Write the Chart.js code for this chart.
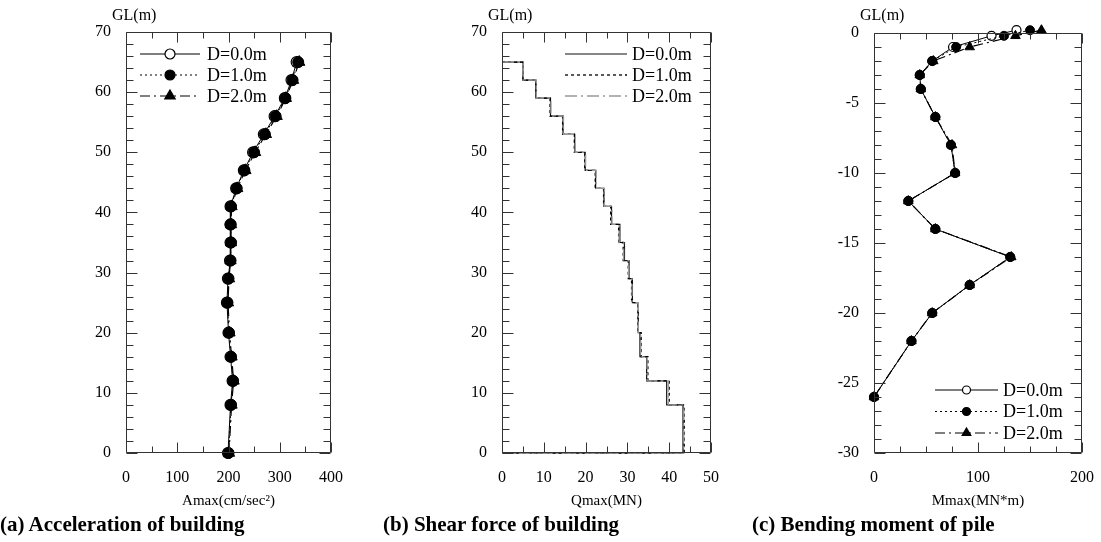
<!DOCTYPE html>
<html>
<head>
<meta charset="utf-8">
<script src="https://cdn.jsdelivr.net/npm/chart.js@4.4.1/dist/chart.umd.min.js"></script>
<style>
body{margin:0;background:#fff;width:1101px;height:542px;position:relative;overflow:hidden;font-family:"Liberation Serif",serif;}
canvas{position:absolute;top:0;}
.caption{position:absolute;top:512px;font-weight:bold;font-size:21px;line-height:24px;white-space:nowrap;color:#000;}
</style>
</head>
<body>
<canvas id="chartA" width="310" height="520" style="left:40px"></canvas>
<canvas id="chartB" width="320" height="520" style="left:410px"></canvas>
<canvas id="chartC" width="321" height="520" style="left:780px"></canvas>
<div class="caption" style="left:0px">(a) Acceleration of building</div>
<div class="caption" style="left:383px">(b) Shear force of building</div>
<div class="caption" style="left:752px">(c) Bending moment of pile</div>
<script>
// DATA

let seriesLabels = ["D=0.0m", "D=1.0m", "D=2.0m"];

// (a) max acceleration of building, cm/sec2, per floor level GL(m)
let accGL = [65, 62, 59, 56, 53, 50, 47, 44, 41, 38, 35, 32, 29, 25, 20, 16, 12, 8, 0];
let accD0 = [333, 323, 310, 290, 269, 248, 230, 215, 204, 204, 204, 203, 199, 197, 200, 204, 208, 204, 199];
let accD1 = [336, 325, 311, 292, 271, 250, 231, 216, 205, 204, 205, 204, 200, 198, 201, 205, 209, 205, 200];
let accD2 = [338, 326, 312, 294, 273, 252, 233, 217, 206, 205, 205, 204, 201, 199, 202, 206, 210, 206, 201];
let accXTicks = [0, 100, 200, 300, 400];
let accYTicks = [0, 10, 20, 30, 40, 50, 60, 70];

// (b) max shear force of building, MN, for each storey (top GL of storey)
let shearTop = [65, 62, 59, 56, 53, 50, 47, 44, 41, 38, 35, 32, 29, 25, 20, 16, 12, 8];
let shearD0 = [5.0, 8.1, 11.6, 14.6, 17.4, 19.9, 22.4, 24.4, 26.2, 28.2, 29.3, 30.4, 31.2, 32.6, 33.0, 34.6, 39.4, 43.3];
let shearD1 = [5.0, 8.1, 11.5, 14.5, 17.3, 19.8, 22.3, 24.3, 26.0, 27.9, 29.0, 30.2, 31.0, 32.5, 33.3, 34.9, 40.0, 43.6];
let shearD2 = [5.0, 8.2, 11.7, 14.7, 17.5, 20.0, 22.5, 24.5, 26.3, 28.0, 29.1, 30.3, 31.1, 32.6, 33.2, 34.7, 39.8, 43.5];
let shearXTicks = [0, 10, 20, 30, 40, 50];
let shearYTicks = [0, 10, 20, 30, 40, 50, 60, 70];

// (c) max bending moment of pile, MN*m, along pile depth GL(m)
let momGL = [0.2, -0.2, -1, -2, -3, -4, -6, -8, -10, -12, -14, -16, -18, -20, -22, -26];
let momD0 = [137, 113, 76, 56, 44, 45, 59, 74, 78, 33, 59, 131, 92, 56, 36, 0];
let momD1 = [150, 125, 79, 56, 44, 45, 59, 74, 78, 33, 59, 131, 92, 56, 36, 0];
let momD2 = [161, 136, 92, 57, 44, 45, 59, 75, 78, 33, 59, 132, 92, 56, 36, 0];
let momXTicks = [0, 100, 200];
let momYTicks = [-30, -25, -20, -15, -10, -5, 0];

let serif = '"Liberation Serif", "Times New Roman", serif';

//FUNCIONES

function profilePoints(xs, ys){
	return xs.map((v, i) => ({x: v, y: ys[i]}));
}

// storey outline: horizontal at each storey top, vertical down the storey, closed at GL 0
function stepPoints(q, tops){
	let pts = [{x: 0, y: tops[0]}];
	q.forEach((v, i) => pts.push({x: v, y: tops[i]}));
	pts.push({x: q[q.length - 1], y: 0});
	pts.push({x: 0, y: 0});
	return pts;
}

function drawMarker(ctx, style, x, y, r, fill, stroke){
	ctx.save();
	ctx.setLineDash([]);
	ctx.fillStyle = fill;
	ctx.strokeStyle = stroke;
	ctx.lineWidth = 1.2;
	ctx.beginPath();
	if(style === "triangle"){
		let rad = 0;
		ctx.moveTo(x + Math.sin(rad) * r, y - Math.cos(rad) * r);
		rad += 2 * Math.PI / 3;
		ctx.lineTo(x + Math.sin(rad) * r, y - Math.cos(rad) * r);
		rad += 2 * Math.PI / 3;
		ctx.lineTo(x + Math.sin(rad) * r, y - Math.cos(rad) * r);
		ctx.closePath();
	} else {
		ctx.arc(x, y, r, 0, Math.PI * 2);
	}
	ctx.fill();
	ctx.stroke();
	ctx.restore();
}

// frame with inward ticks on all four sides, steps given per chart
function drawFrame(chart, fr){
	let ctx = chart.ctx;
	let a = chart.chartArea;
	let sx = chart.scales.x;
	let sy = chart.scales.y;
	let l = Math.round(a.left) + 0.5, r = Math.round(a.right) - 0.5;
	let t = Math.round(a.top) + 0.5, b = Math.round(a.bottom) - 0.5;
	ctx.save();
	ctx.strokeStyle = "#333";
	ctx.lineWidth = 1;
	ctx.setLineDash([]);
	ctx.beginPath();
	ctx.moveTo(l, t); ctx.lineTo(r, t); ctx.lineTo(r, b); ctx.lineTo(l, b); ctx.closePath();
	let xmin = sx.min, xmax = sx.max, ymin = sy.min, ymax = sy.max;
	for(let i = 0; xmin + i * fr.xMinor <= xmax + 1e-9; i++){
		let v = xmin + i * fr.xMinor;
		let px = Math.round(sx.getPixelForValue(v)) + 0.5;
		let len = Math.abs(v / fr.xMajor - Math.round(v / fr.xMajor)) < 1e-6 ? 10 : 6;
		ctx.moveTo(px, b); ctx.lineTo(px, b - len);
		ctx.moveTo(px, t); ctx.lineTo(px, t + len);
	}
	for(let i = 0; ymin + i * fr.yMinor <= ymax + 1e-9; i++){
		let v = ymin + i * fr.yMinor;
		let py = Math.round(sy.getPixelForValue(v)) + 0.5;
		let len = Math.abs(v / fr.yMajor - Math.round(v / fr.yMajor)) < 1e-6 ? 11 : 7;
		ctx.moveTo(l, py); ctx.lineTo(l + len, py);
		ctx.moveTo(r, py); ctx.lineTo(r - len, py);
	}
	ctx.stroke();
	ctx.restore();
}

// legend drawn like the paper: line sample with the marker in the middle
function drawLegend(chart, lg){
	let ctx = chart.ctx;
	let a = chart.chartArea;
	ctx.save();
	chart.data.datasets.forEach((ds, i) => {
		let y = a.top + lg.top + i * lg.rowGap;
		let x0 = a.left + lg.left;
		let x1 = x0 + lg.lineLength;
		ctx.strokeStyle = ds.borderColor;
		ctx.lineWidth = ds.borderWidth;
		ctx.setLineDash(ds.borderDash || []);
		ctx.beginPath();
		ctx.moveTo(x0, y);
		ctx.lineTo(x1, y);
		ctx.stroke();
		if(ds.pointRadius > 0){
			drawMarker(ctx, ds.pointStyle, (x0 + x1) / 2, y, ds.pointRadius - 0.5, ds.pointBackgroundColor, ds.pointBorderColor);
		}
		ctx.setLineDash([]);
		ctx.fillStyle = "#000";
		ctx.font = "18px " + serif;
		ctx.textBaseline = "middle";
		ctx.textAlign = "left";
		ctx.fillText(ds.label, x1 + lg.textGap, y + 1);
	});
	ctx.restore();
}

// one plugin per chart: frame, legend and the "GL(m)" heading above the depth axis
function decorations(ax){
	return {
		id: "decor",
		afterDraw(chart){
			drawFrame(chart, ax.frame);
			drawLegend(chart, ax.legend);
			let ctx = chart.ctx;
			ctx.save();
			ctx.fillStyle = "#000";
			ctx.font = "16px " + serif;
			ctx.textBaseline = "middle";
			ctx.textAlign = "left";
			ctx.fillText("GL(m)", chart.chartArea.left - 14, 16);
			ctx.restore();
		}
	};
}

function makeDatasets(pointsList, styleSet){
	return pointsList.map((pts, i) => Object.assign({
		label: seriesLabels[i],
		data: pts,
		tension: 0,
		clip: false,
		fill: false,
		order: 3 - i
	}, styleSet[i]));
}

let markerStyles = (r) => [
	{borderColor: "#000", borderWidth: 1, borderDash: [], pointStyle: "circle", pointRadius: r, pointBackgroundColor: "#fff", pointBorderColor: "#000", pointBorderWidth: 1.2},
	{borderColor: "#000", borderWidth: 1, borderDash: [2, 3], pointStyle: "circle", pointRadius: r, pointBackgroundColor: "#000", pointBorderColor: "#000", pointBorderWidth: 1},
	{borderColor: "#000", borderWidth: 1.2, borderDash: [10, 4, 2, 4], pointStyle: "triangle", pointRadius: r + 1, pointBackgroundColor: "#000", pointBorderColor: "#000", pointBorderWidth: 1}
];

let stepStyles = [
	{borderColor: "#111", borderWidth: 1.2, borderDash: [], pointRadius: 0, stepped: "after"},
	{borderColor: "#000", borderWidth: 1.3, borderDash: [3, 3], pointRadius: 0, stepped: "after"},
	{borderColor: "#999", borderWidth: 1.3, borderDash: [12, 4, 2, 4], pointRadius: 0, stepped: "after"}
];

function makeChart(id, datasets, ax){
	return new Chart(document.getElementById(id), {
		type: "line",
		data: {datasets: datasets},
		options: {
			responsive: false,
			animation: false,
			events: [],
			layout: {padding: {top: ax.padTop, right: ax.padRight, left: 0, bottom: 0}},
			plugins: {
				legend: {display: false},
				tooltip: {enabled: false}
			},
			scales: {
				x: {
					type: "linear",
					min: ax.xTicks[0],
					max: ax.xTicks[ax.xTicks.length - 1],
					afterBuildTicks: s => { s.ticks = ax.xTicks.map(v => ({value: v})); },
					ticks: {font: {family: serif, size: 16}, color: "#000", padding: 7, autoSkip: false, maxRotation: 0},
					grid: {display: false},
					border: {display: false},
					title: {display: true, text: ax.xTitle, font: {family: serif, size: 15}, color: "#000", padding: {top: 0, bottom: 10}},
					afterFit: s => { s.height = 67; }
				},
				y: {
					type: "linear",
					min: ax.yTicks[0],
					max: ax.yTicks[ax.yTicks.length - 1],
					afterBuildTicks: s => { s.ticks = ax.yTicks.map(v => ({value: v})); },
					ticks: {font: {family: serif, size: 16}, color: "#000", padding: 7, autoSkip: false},
					grid: {display: false},
					border: {display: false},
					afterFit: s => { s.width = ax.yWidth; }
				}
			}
		},
		plugins: [decorations(ax)]
	});
}

// (a)
makeChart("chartA",
	makeDatasets([profilePoints(accD0, accGL), profilePoints(accD1, accGL), profilePoints(accD2, accGL)], markerStyles(5.5)),
	{padTop: 32, padRight: 15, yWidth: 86, xTicks: accXTicks, yTicks: accYTicks, xTitle: "Amax(cm/sec²)",
	 frame: {xMinor: 50, xMajor: 100, yMinor: 2, yMajor: 10},
	 legend: {left: 14, top: 22, rowGap: 21, lineLength: 60, textGap: 7}});

// (b)
makeChart("chartB",
	makeDatasets([stepPoints(shearD0, shearTop), stepPoints(shearD1, shearTop), stepPoints(shearD2, shearTop)], stepStyles),
	{padTop: 32, padRight: 19, yWidth: 92, xTicks: shearXTicks, yTicks: shearYTicks, xTitle: "Qmax(MN)",
	 frame: {xMinor: 5, xMajor: 10, yMinor: 2, yMajor: 10},
	 legend: {left: 63, top: 22, rowGap: 21, lineLength: 62, textGap: 5}});

// (c)
makeChart("chartC",
	makeDatasets([profilePoints(momD0, momGL), profilePoints(momD1, momGL), profilePoints(momD2, momGL)], markerStyles(4.5)),
	{padTop: 33, padRight: 18, yWidth: 94, xTicks: momXTicks, yTicks: momYTicks, xTitle: "Mmax(MN*m)",
	 frame: {xMinor: 25, xMajor: 100, yMinor: 1, yMajor: 5},
	 legend: {left: 61, top: 357, rowGap: 21.5, lineLength: 63, textGap: 5}});
</script>
</body>
</html>
